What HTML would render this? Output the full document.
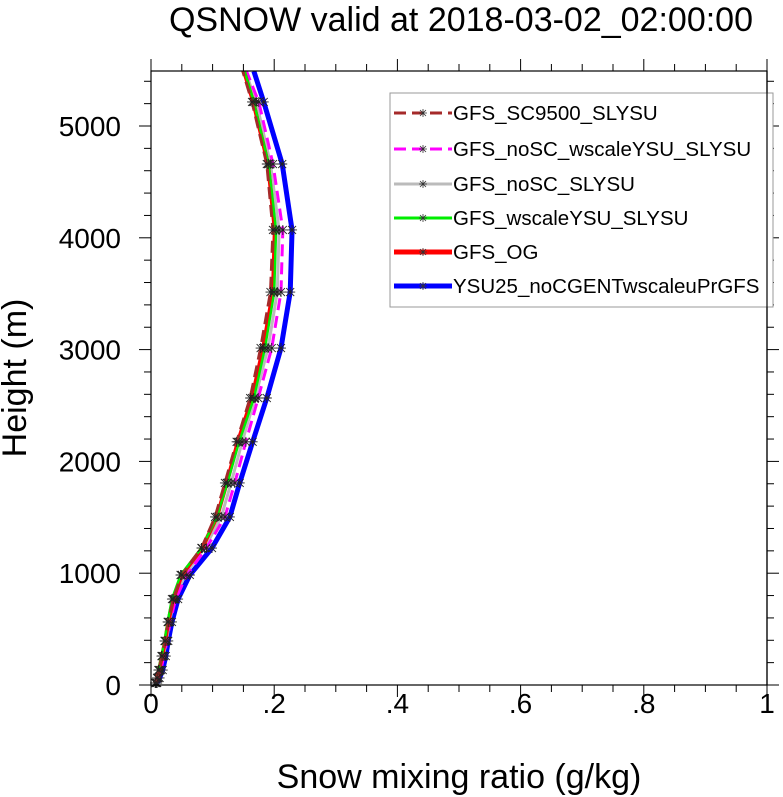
<!DOCTYPE html>
<html><head><meta charset="utf-8"><style>
body{margin:0;background:#fff;}
svg{display:block;font-family:"Liberation Sans",sans-serif;}
</style></head><body>
<svg id="c" width="783" height="797">
<text x="461" y="31" font-size="34" text-anchor="middle">QSNOW valid at 2018-03-02_02:00:00</text>
<text x="459" y="788" font-size="34" text-anchor="middle">Snow mixing ratio (g/kg)</text>
<text transform="translate(26,378) rotate(-90)" font-size="34" text-anchor="middle">Height (m)</text>
<g id="plot"></g>
</svg>
<script>
const heights=[18,63,134,259,394,564,769,984,1225,1503,1807,2175,2567,3014,3515,4070,4660,5215,5490];
const seriesNames=["GFS_SC9500_SLYSU","GFS_noSC_wscaleYSU_SLYSU","GFS_noSC_SLYSU","GFS_wscaleYSU_SLYSU","GFS_OG","YSU25_noCGENTwscaleuPrGFS"];
const sc9500=[0.007,0.010,0.013,0.018,0.023,0.028,0.036,0.050,0.082,0.104,0.120,0.139,0.161,0.178,0.194,0.198,0.188,0.164,0.149];
const noscWscale=[0.009,0.012,0.016,0.021,0.026,0.031,0.040,0.058,0.090,0.120,0.136,0.154,0.174,0.196,0.211,0.214,0.198,0.175,0.155];
const noscSL=[0.008,0.011,0.015,0.020,0.025,0.030,0.038,0.055,0.087,0.114,0.130,0.148,0.169,0.190,0.205,0.208,0.194,0.171,0.153];
const wscale=[0.007,0.010,0.012,0.017,0.022,0.027,0.034,0.048,0.082,0.107,0.124,0.143,0.167,0.185,0.200,0.203,0.191,0.167,0.152];
const og=[0.007,0.010,0.013,0.018,0.023,0.028,0.036,0.050,0.083,0.107,0.123,0.141,0.164,0.182,0.198,0.201,0.190,0.166,0.151];
const ysu25=[0.010,0.014,0.019,0.024,0.028,0.034,0.044,0.063,0.099,0.128,0.144,0.165,0.188,0.211,0.226,0.229,0.213,0.183,0.167];
const xTicks=[0,0.2,0.4,0.6,0.8,1];
const xTickLabels=["0",".2",".4",".6",".8","1"];
const yTicks=[0,1000,2000,3000,4000,5000];
const yTickLabels=["0","1000","2000","3000","4000","5000"];

const L=151,R=767,T=71,B=685;
const xs=v=>L+v*(R-L);
const ys=h=>B-h*(B-126)/5000;
const NS="http://www.w3.org/2000/svg";
const g=document.getElementById('plot');
function mk(t,a,p){const e=document.createElementNS(NS,t);for(const k in a)e.setAttribute(k,a[k]);(p||g).appendChild(e);return e;}
for(let v=0;v<=1.0001;v+=0.05){const maj=Math.abs(v*5-Math.round(v*5))<1e-6;const len=maj?12:7;const x=xs(v);
 const t1=mk('line',{x1:x,x2:x,y1:B,y2:B+len,stroke:'#000','stroke-width':1});
 
 const t2=mk('line',{x1:x,x2:x,y1:T,y2:T-len,stroke:'#000','stroke-width':1});
 }
for(let h=0;h<=5400;h+=200){const maj=h%1000===0;const len=maj?12:7;const y=ys(h);
 const t1=mk('line',{x1:L,x2:L-len,y1:y,y2:y,stroke:'#000','stroke-width':1});
 
 const t2=mk('line',{x1:R,x2:R+len,y1:y,y2:y,stroke:'#000','stroke-width':1});
 }
xTicks.forEach((v,i)=>{const t=mk('text',{x:xs(v),y:B+28,'font-size':28,'text-anchor':'middle'});t.textContent=xTickLabels[i];
 });
yTicks.forEach((v,i)=>{const t=mk('text',{x:L-30,y:ys(v)+10,'font-size':28,'text-anchor':'end'});t.textContent=yTickLabels[i];
 });
const styles=[
 {d:ysu25,c:'#0000ff',w:5,dash:''},
 {d:noscSL,c:'#bbbbbb',w:3,dash:''},
 {d:noscWscale,c:'#ff00ff',w:3,dash:'12,6'},
 {d:og,c:'#ff0000',w:4,dash:''},
 {d:wscale,c:'#00ee00',w:2.5,dash:''},
 {d:sc9500,c:'#a52a2a',w:3,dash:'12,6'}];
const order=[5,2,1,3,4,0];
styles.forEach((s,i)=>{
 const pts=s.d.map((v,j)=>xs(v)+','+ys(heights[j])).join(' ');
 const pl=mk('polyline',{points:pts,fill:'none',stroke:s.c,'stroke-width':s.w,'stroke-dasharray':s.dash,'stroke-linejoin':'round'});
 
 s.d.forEach((v,j)=>{if(j===s.d.length-1)return;const x=xs(v),y=ys(heights[j]);
  const m=mk('path',{d:`M${x-5},${y}h10M${x},${y-5}v10M${x-4},${y-4}l8,8M${x-4},${y+4}l8,-8`,stroke:'#222','stroke-width':0.9});
  });
});
const fr=mk('rect',{x:L,y:T,width:R-L,height:B-T,fill:'none',stroke:'#000','stroke-width':1.2});

const lg=mk('g',{});

const lb=mk('rect',{x:390,y:93,width:383,height:214,fill:'#fff',stroke:'#999','stroke-width':1},lg);

const lstyles=[
 {c:'#a52a2a',w:3,dash:'12,6'},{c:'#ff00ff',w:3,dash:'12,6'},{c:'#bbbbbb',w:3,dash:''},
 {c:'#00ee00',w:3,dash:''},{c:'#ff0000',w:5,dash:''},{c:'#0000ff',w:5,dash:''}];
const ly=[113,149,184,218,252,286];
seriesNames.forEach((n,i)=>{
 const e=mk('g',{},lg);
 const s=lstyles[i];
 mk('line',{x1:394,x2:452,y1:ly[i],y2:ly[i],stroke:s.c,'stroke-width':s.w,'stroke-dasharray':s.dash},e);
 mk('path',{d:`M419,${ly[i]}h8M423,${ly[i]-4}v8M420,${ly[i]-3}l6,6M420,${ly[i]+3}l6,-6`,stroke:'#333','stroke-width':0.8},e);
 const t=mk('text',{x:453,y:ly[i]+7,'font-size':20.5},e);t.textContent=n;
});
mk('line',{x1:R,x2:R,y1:T,y2:B,stroke:'#000','stroke-width':1.2});
</script>
</body></html>
